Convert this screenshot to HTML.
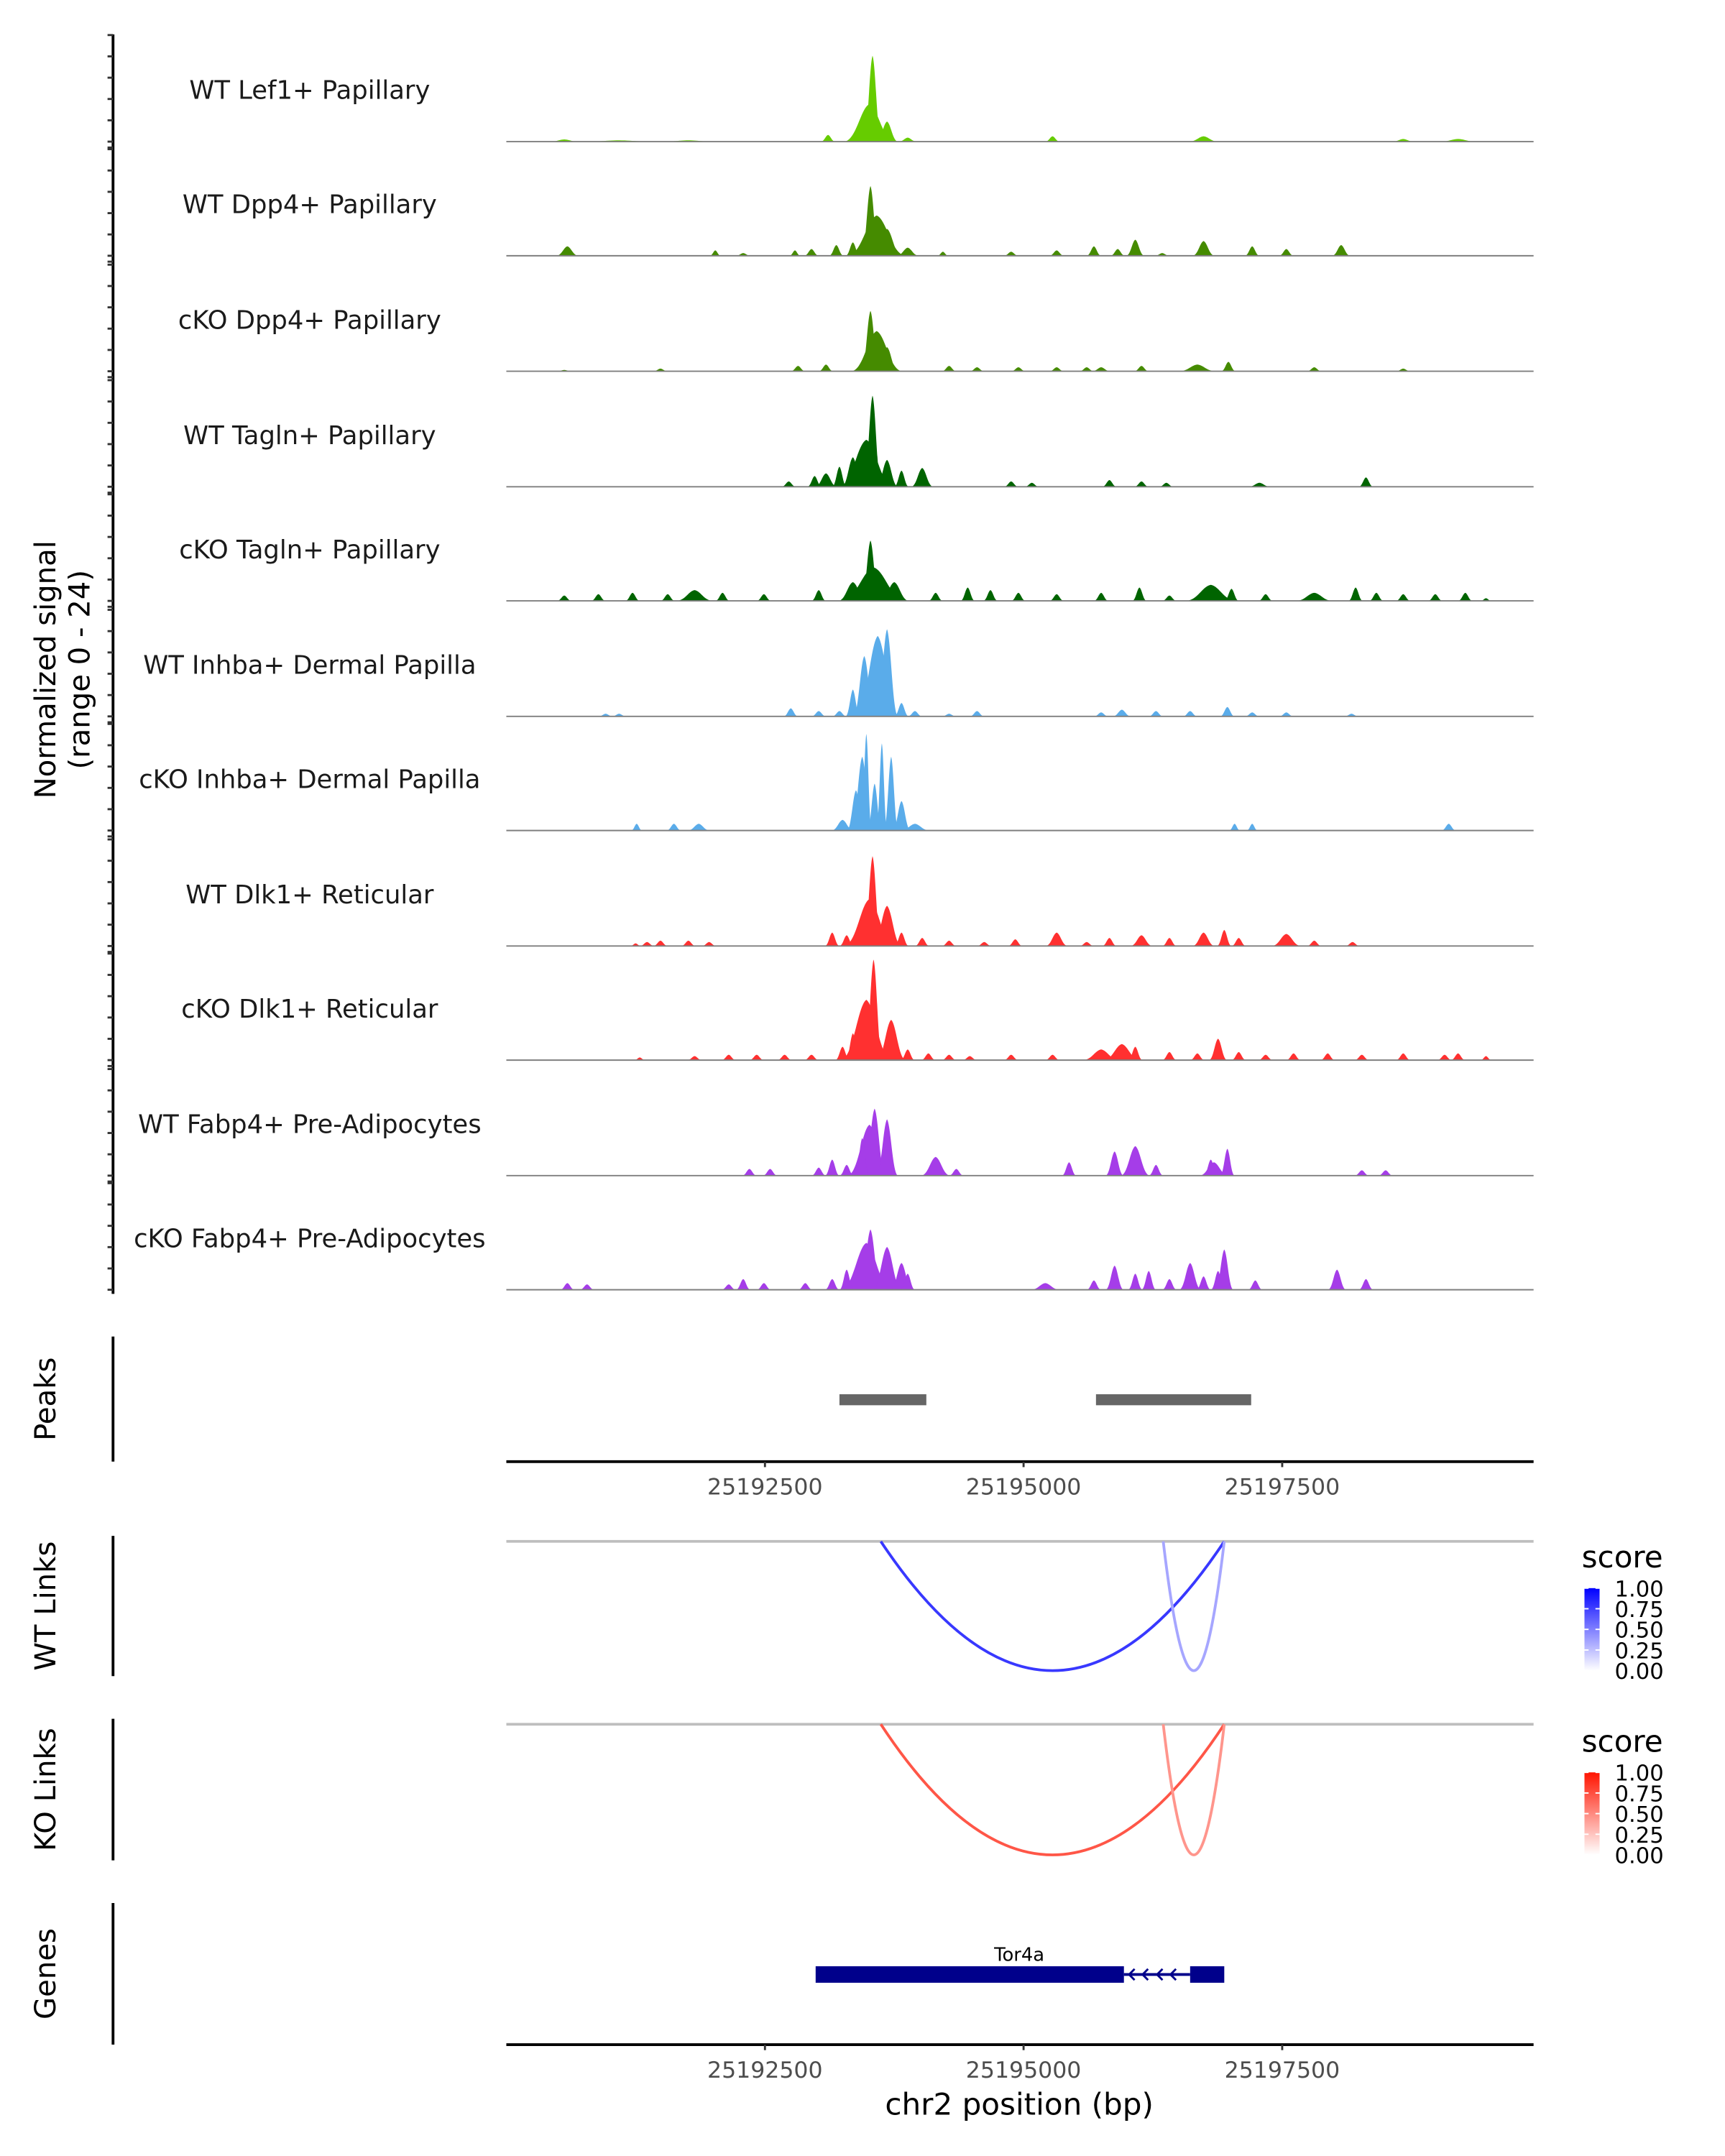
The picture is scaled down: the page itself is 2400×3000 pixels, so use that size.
<!DOCTYPE html>
<html><head><meta charset="utf-8">
<style>html,body{margin:0;padding:0;background:#fff}svg{display:block}text{font-family:"DejaVu Sans","Liberation Sans",sans-serif}</style>
</head><body>
<svg id="chart" xmlns="http://www.w3.org/2000/svg" width="2400" height="3000" viewBox="0 0 1254 1568">
<rect width="1254" height="1568" fill="#fff"/>
<g id="tracks"></g>
<g id="axes"></g>
</svg>
<script>
// region chr2:25,190,000 - 25,200,000 ; positions in kb offset from 25,190,000
const regionStartBp = 25190000;
const regionEndBp = 25199930;
const trackLabels = ["WT Lef1+ Papillary","WT Dpp4+ Papillary","cKO Dpp4+ Papillary","WT Tagln+ Papillary","cKO Tagln+ Papillary","WT Inhba+ Dermal Papilla","cKO Inhba+ Dermal Papilla","WT Dlk1+ Reticular","cKO Dlk1+ Reticular","WT Fabp4+ Pre-Adipocytes","cKO Fabp4+ Pre-Adipocytes"];
const trackColors = ["#66cc00","#458b00","#458b00","#006400","#006400","#5aacea","#5aacea","#ff3030","#ff3030","#a53de8","#a53de8"];
const xTicksBp = [25192500,25195000,25197500];
const xTickLabels = ["25192500","25195000","25197500"];
const yRange = [0,24];
// [kb, halfwidth kb, signal]
const lef1WT = [[3.54,0.066,19.2],[3.51,0.186,8.4],[3.68,0.08,4.5],[3.11,0.053,1.5],[3.88,0.066,0.9],[5.28,0.053,1.2],[6.74,0.106,1.2],[8.67,0.08,0.6],[9.2,0.133,0.6],[0.56,0.106,0.5],[1.09,0.266,0.3],[1.76,0.2,0.3]];
const dpp4WT = [[3.52,0.066,15.6],[3.58,0.213,9],[3.68,0.106,6],[3.35,0.053,3],[3.19,0.053,2.4],[2.95,0.053,1.5],[2.79,0.04,1.2],[2.02,0.04,1.2],[2.29,0.053,0.6],[0.59,0.08,2.1],[3.88,0.08,1.8],[4.22,0.04,0.9],[4.88,0.053,0.9],[5.32,0.053,1.2],[5.68,0.053,2.1],[6.08,0.066,3.6],[5.91,0.053,1.5],[6.74,0.08,3.3],[7.21,0.053,2.1],[7.54,0.053,1.5],[8.07,0.066,2.4],[6.34,0.053,0.6]];
const dpp4KO = [[3.52,0.066,13.5],[3.58,0.186,9],[3.68,0.08,5.4],[3.09,0.053,1.5],[2.82,0.053,1.2],[4.28,0.053,1.2],[4.55,0.053,0.9],[4.95,0.053,0.9],[5.32,0.053,0.9],[5.75,0.066,0.9],[6.14,0.053,1.2],[6.68,0.133,1.5],[6.98,0.053,2.1],[7.81,0.053,0.9],[8.67,0.053,0.6],[1.49,0.053,0.6],[0.56,0.053,0.3],[5.61,0.053,0.9]];
const taglnWT = [[3.54,0.066,20.4],[3.48,0.2,10.5],[3.35,0.08,6.6],[3.68,0.08,6],[3.09,0.08,3],[2.98,0.053,2.4],[3.22,0.053,4.5],[3.82,0.053,3.6],[4.02,0.08,4.2],[2.73,0.053,1.2],[4.88,0.053,1.2],[5.08,0.053,0.9],[5.83,0.053,1.5],[6.14,0.053,1.2],[6.38,0.053,0.9],[7.28,0.08,0.9],[8.31,0.053,2.1]];
const taglnKO = [[3.52,0.066,13.5],[3.55,0.24,7.5],[3.35,0.106,4.2],[3.75,0.106,4.2],[3.02,0.053,2.4],[4.15,0.053,1.8],[4.46,0.053,3],[4.68,0.053,2.4],[4.95,0.053,1.8],[5.32,0.053,1.5],[5.75,0.053,1.8],[6.12,0.053,3],[6.41,0.053,1.2],[6.81,0.186,3.6],[7.01,0.053,2.7],[7.34,0.053,1.5],[7.81,0.133,1.8],[8.21,0.053,3],[8.41,0.053,1.8],[8.67,0.053,1.5],[8.98,0.053,1.5],[9.27,0.053,1.8],[0.56,0.053,1.2],[0.89,0.053,1.5],[1.22,0.053,1.8],[1.56,0.053,1.5],[1.82,0.133,2.4],[2.09,0.053,1.8],[2.49,0.053,1.5],[9.47,0.04,0.6]];
const inhbaWT = [[3.59,0.16,18],[3.68,0.08,19.5],[3.46,0.08,13.5],[3.35,0.053,6],[3.82,0.053,3],[2.75,0.053,1.8],[3.02,0.053,1.2],[3.22,0.053,1.2],[3.95,0.053,1.2],[4.28,0.053,0.6],[4.55,0.053,1.2],[0.96,0.053,0.6],[1.09,0.053,0.6],[5.75,0.053,0.9],[5.95,0.066,1.5],[6.28,0.053,1.2],[6.61,0.053,1.2],[6.97,0.053,2.1],[7.21,0.053,0.9],[7.54,0.053,0.9],[8.17,0.053,0.6]];
const inhbaKO = [[3.48,0.04,21.6],[3.44,0.08,16.5],[3.38,0.066,9],[3.63,0.04,19.5],[3.72,0.053,16.5],[3.56,0.053,10.5],[3.82,0.066,6.6],[3.25,0.08,2.4],[3.95,0.106,1.5],[1.26,0.04,1.5],[1.62,0.053,1.5],[1.86,0.08,1.5],[7.04,0.04,1.5],[7.21,0.04,1.5],[9.11,0.053,1.5]];
const dlk1WT = [[3.54,0.066,20.1],[3.51,0.186,10.5],[3.68,0.106,9],[3.82,0.053,3],[3.15,0.053,3],[3.29,0.053,2.4],[4.02,0.053,1.8],[4.28,0.053,1.2],[4.62,0.053,0.9],[4.92,0.053,1.5],[5.32,0.08,3],[5.61,0.053,0.9],[5.83,0.053,1.8],[6.14,0.08,2.4],[6.41,0.053,1.8],[6.74,0.08,3],[6.94,0.053,3.6],[7.08,0.053,1.8],[7.54,0.106,2.7],[7.81,0.053,1.2],[8.18,0.053,0.9],[1.36,0.053,0.9],[1.49,0.053,1.2],[1.76,0.053,1.2],[1.96,0.053,0.9],[1.25,0.04,0.6]];
const dlk1KO = [[3.55,0.066,22.5],[3.48,0.186,13.5],[3.72,0.106,9],[3.35,0.053,6],[3.25,0.053,3],[3.88,0.053,2.4],[4.08,0.053,1.5],[4.28,0.053,1.2],[4.48,0.053,0.9],[4.88,0.053,1.2],[5.28,0.053,1.2],[5.75,0.133,2.4],[5.95,0.133,3.6],[6.08,0.053,3],[6.41,0.053,1.8],[6.68,0.053,1.5],[6.88,0.066,4.8],[7.08,0.053,1.8],[7.34,0.053,1.2],[7.61,0.053,1.5],[7.94,0.053,1.5],[8.27,0.053,1.2],[8.67,0.053,1.5],[9.07,0.053,1.2],[9.2,0.053,1.5],[9.47,0.04,0.9],[1.82,0.053,0.9],[2.15,0.053,1.2],[2.42,0.053,1.2],[2.69,0.053,1.2],[2.95,0.053,1.2],[1.29,0.04,0.6]];
const fabp4WT = [[3.56,0.08,15],[3.51,0.16,11.4],[3.68,0.08,12.6],[3.44,0.053,8.4],[3.15,0.053,3.6],[3.02,0.053,1.8],[3.29,0.053,2.4],[4.15,0.106,4.2],[4.35,0.053,1.5],[5.44,0.053,3],[5.88,0.066,5.4],[6.08,0.106,6.6],[6.28,0.053,2.4],[6.81,0.053,3.6],[6.97,0.053,6],[6.84,0.106,3],[2.35,0.053,1.5],[2.55,0.053,1.5],[8.27,0.053,1.2],[8.5,0.053,1.2]];
const fabp4KO = [[3.52,0.08,13.5],[3.48,0.186,10.5],[3.68,0.106,9.6],[3.82,0.08,6],[3.88,0.053,3.6],[3.29,0.053,4.5],[3.15,0.053,2.4],[2.89,0.053,1.5],[2.29,0.053,2.4],[2.15,0.053,1.2],[2.49,0.053,1.5],[0.59,0.053,1.5],[0.78,0.053,1.2],[5.21,0.106,1.5],[5.68,0.053,2.1],[5.88,0.066,5.4],[6.08,0.053,3.6],[6.21,0.053,4.2],[6.41,0.053,2.4],[6.61,0.08,6],[6.74,0.053,3],[6.94,0.066,9],[6.88,0.053,4.2],[7.24,0.053,2.1],[8.03,0.066,4.5],[8.31,0.053,2.4]];
const trackSignals = [lef1WT,dpp4WT,dpp4KO,taglnWT,taglnKO,inhbaWT,inhbaKO,dlk1WT,dlk1KO,fabp4WT,fabp4KO];
const peakRangesKb = [[3.22,4.06],[5.7,7.2]];
const wtLinks = [[3.62,6.94,0.78],[6.35,6.94,0.35]];
const koLinks = [[3.62,6.94,0.72],[6.35,6.94,0.45]];
const legendTicks = [1.00,0.75,0.50,0.25,0.00];
const geneExonsKb = [[2.99,5.97],[6.61,6.94]];
const geneIntronKb = [5.97,6.61];

const NS="http://www.w3.org/2000/svg";
const X0=368,X1=1115;
function xScale(kb){return X0+(kb*1000)/(regionEndBp-regionStartBp)*(X1-X0);}
function xScaleBp(bp){return xScale((bp-regionStartBp)/1000);}
const baselines=[103,186,270,354,437,521,604,688,771,855,938];
function yScale(v,base){return base-(v-yRange[0])/(yRange[1]-yRange[0])*78;}
function mk(tag,attrs,parent){const e=document.createElementNS(NS,tag);for(const k in attrs)e.setAttribute(k,attrs[k]);parent.appendChild(e);return e;}
const svg=document.getElementById('chart');
const tg=document.getElementById('tracks');
const ax=document.getElementById('axes');

trackLabels.forEach((lab,i)=>{
  const b=baselines[i];
  const g=mk('g',{},tg);
  
  
  trackSignals[i].forEach(p=>{
    const hw=p[1]*1.35;
    const xa=xScale(p[0]-hw),xc=xScale(p[0]),xb=xScale(p[0]+hw),yt=yScale(p[2],b);
    const d=`M${xa},${b} C${xa+(xc-xa)*0.5},${b} ${xc-(xc-xa)*0.35},${yt+(b-yt)*0.1} ${xc},${yt} C${xc+(xb-xc)*0.35},${yt+(b-yt)*0.1} ${xb-(xb-xc)*0.5},${b} ${xb},${b} Z`;
    const poly=mk('path',{d:d,fill:trackColors[i]},g);
    
    
  });
  const bl=mk('line',{x1:X0,x2:X1,y1:b,y2:b,stroke:'#7f7f7f','stroke-width':1},g);
  
  
  const t=mk('text',{x:225,y:b-31,'text-anchor':'middle','font-size':18.5,fill:'#1a1a1a'},g);
  t.textContent=lab;
  
  
});

// left axis for coverage
const la=mk('line',{x1:82,x2:82,y1:25,y2:941,stroke:'#000','stroke-width':2},ax);


baselines.forEach((b,i)=>{
  const ys=[b+4.3,b];for(let k=1;k<=5;k++)ys.push(b-15.5*k);
  ys.forEach(y=>{if(y>=24&&y<=941){const tk=mk('line',{x1:78,x2:82,y1:y,y2:y,stroke:'#333','stroke-width':1.5},ax);
  }});
});
function vtext(txt,x,y,name,size){const t=mk('text',{x:x,y:y,'text-anchor':'middle','font-size':size||21,fill:'#000',transform:`rotate(-90 ${x} ${y})`},ax);t.textContent=txt;return t;}
vtext('Normalized signal',40,487,'y-axis-title');
vtext('(range 0 - 24)',65,487,'y-axis-subtitle');

function sideAxis(y1,y2,title,name){const l=mk('line',{x1:82,x2:82,y1:y1,y2:y2,stroke:'#000','stroke-width':2},ax);vtext(title,40,(y1+y2)/2,name+'-title');}
sideAxis(972,1063,'Peaks','peaks');
sideAxis(1117,1219,'WT Links','wt-links');
sideAxis(1250,1353,'KO Links','ko-links');
sideAxis(1384,1487,'Genes','genes');

// peaks
peakRangesKb.forEach(r=>{const rc=mk('rect',{x:xScale(r[0]),y:1014,width:xScale(r[1])-xScale(r[0]),height:8,fill:'#666'},ax);});
function xAxis(y,name){const l=mk('line',{x1:X0,x2:X1,y1:y,y2:y,stroke:'#000','stroke-width':2},ax);
  xTicksBp.forEach((bp,i)=>{const x=xScaleBp(bp);const tk=mk('line',{x1:x,x2:x,y1:y,y2:y+4,stroke:'#333','stroke-width':1.5},ax);
  const t=mk('text',{x:x,y:y+24,'text-anchor':'middle','font-size':16.5,fill:'#4d4d4d'},ax);t.textContent=xTickLabels[i];});}
xAxis(1063,'peaks-x-axis');

// links
function links(data,y0,depth,colorFn,name){const gl=mk('line',{x1:X0,x2:X1,y1:y0,y2:y0,stroke:'#bebebe','stroke-width':2},ax);
  data.forEach(d=>{const xa=xScale(d[0]),xb=xScale(d[1]);const p=mk('path',{d:`M${xa},${y0} Q${(xa+xb)/2},${y0+2*depth} ${xb},${y0}`,fill:'none',stroke:colorFn(d[2]),'stroke-width':2},ax);});}
function mix(c,s){return `rgb(${Math.round(255+(c[0]-255)*s)},${Math.round(255+(c[1]-255)*s)},${Math.round(255+(c[2]-255)*s)})`;}
links(wtLinks,1121,94,s=>mix([0,0,255],s),'wt-link');
links(koLinks,1254,95,s=>mix([255,20,0],s),'ko-link');
const defs=mk('defs',{},svg);
function legend(y,col,id){const lg=mk('linearGradient',{id:id,x1:0,y1:0,x2:0,y2:1},defs);mk('stop',{offset:0,'stop-color':col},lg);mk('stop',{offset:1,'stop-color':'#fff'},lg);
  const g=mk('g',{},ax);
  const t=mk('text',{x:1150,y:y,'font-size':22,fill:'#000'},g);t.textContent='score';
  mk('rect',{x:1152,y:y+15,width:11,height:60,fill:`url(#${id})`},g);
  legendTicks.forEach((v,i)=>{const yy=y+15+(1-v)*60;mk('line',{x1:1152,x2:1155,y1:yy,y2:yy,stroke:'#fff'},g);mk('line',{x1:1160,x2:1163,y1:yy,y2:yy,stroke:'#fff'},g);
  const tt=mk('text',{x:1174,y:yy+6,'font-size':16,fill:'#000'},g);tt.textContent=v.toFixed(2);});}
legend(1140,'#0000ff','wt-score');
legend(1274,'#ff1400','ko-score');

// gene
const gg=mk('g',{},ax);
mk('line',{x1:xScale(geneIntronKb[0]),x2:xScale(geneIntronKb[1]),y1:1436,y2:1436,stroke:'#00008b','stroke-width':2},gg);
geneExonsKb.forEach(e=>mk('rect',{x:xScale(e[0]),y:1430,width:xScale(e[1])-xScale(e[0]),height:12,fill:'#00008b'},gg));
[6.02,6.15,6.29,6.42].forEach(k=>{const x=xScale(k);mk('path',{d:`M${x+4},${1432} L${x},${1436} L${x+4},${1440}`,fill:'none',stroke:'#00008b','stroke-width':1.5},gg);});
const gt=mk('text',{x:741,y:1426,'text-anchor':'middle','font-size':13.5,fill:'#000'},gg);gt.textContent='Tor4a';
xAxis(1487,'genes-x-axis');
const xt=mk('text',{x:741,y:1538,'text-anchor':'middle','font-size':22,fill:'#000'},ax);xt.textContent='chr2 position (bp)';


</script>
</body></html>
